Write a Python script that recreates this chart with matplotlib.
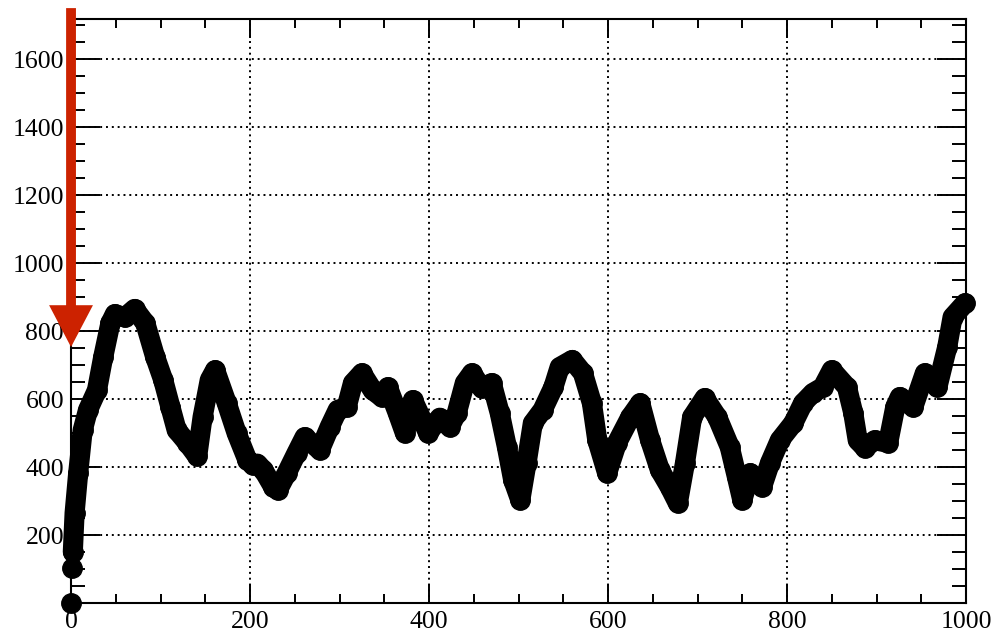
"""Running profile with a red marker arrow, ROOT style."""

import matplotlib

matplotlib.use("Agg")
from matplotlib import pyplot as plt
from matplotlib.ticker import FuncFormatter, MultipleLocator

# values
xs = [
    0, 1, 2, 4, 8, 13, 19, 29, 36, 44, 49, 60, 71, 83, 94, 103, 111, 118,
    130, 141, 147, 155, 161, 174, 185, 197, 203, 208, 215, 226, 231, 241,
    252, 261, 278, 289, 298, 308, 315, 325, 337, 347, 354, 365, 373, 382,
    399, 412, 423, 431, 440, 448, 459, 470, 479, 487, 494, 502, 509, 516,
    527, 539, 546, 560, 572, 582, 588, 599, 610, 625, 636, 647, 658, 669,
    678, 686, 694, 708, 722, 736, 744, 750, 759, 772, 781, 792, 807, 818,
    829, 840, 850, 867, 874, 879, 887, 898, 913, 921, 926, 941, 954, 968,
    979, 985, 999,
]
ys = [
    0, 103, 150, 265, 382, 508, 568, 626, 724, 823, 850, 840, 865, 823,
    724, 656, 577, 509, 471, 432, 547, 656, 685, 588, 500, 421, 406, 410,
    391, 341, 332, 382, 441, 488, 450, 518, 568, 577, 647, 676, 626, 606,
    635, 559, 500, 597, 500, 545, 518, 559, 647, 676, 632, 647, 559, 459,
    362, 303, 412, 529, 568, 635, 694, 715, 676, 588, 479, 382, 471, 547,
    588, 479, 391, 341, 294, 412, 547, 603, 547, 459, 371, 303, 382, 341,
    412, 479, 529, 588, 618, 635, 685, 635, 559, 479, 456, 479, 471, 577,
    606, 576, 676, 635, 753, 841, 882,
]

arrow_x = 0
arrow_top = 1750
arrow_tip = 753

fig = plt.figure(figsize=(9.92, 6.35), dpi=100)
ax = fig.add_axes([0.0716, 0.0504, 0.9022, 0.9197])

ax.plot(xs[2:], ys[2:], "-", color="black", linewidth=14.5,
        solid_capstyle="round", solid_joinstyle="round", zorder=3,
        clip_on=False)
ax.plot(xs, ys, "o", color="black", markersize=14, zorder=3,
        clip_on=False)

ax.arrow(arrow_x, arrow_top, 0, arrow_tip - arrow_top, width=11,
         head_width=49, head_length=123, length_includes_head=True,
         color="#cc2200", linewidth=0, clip_on=False, zorder=5)

ax.set_xlim(0, 1000)
ax.set_ylim(0, 1718)

ax.xaxis.set_major_locator(MultipleLocator(200))
ax.xaxis.set_minor_locator(MultipleLocator(50))
ax.yaxis.set_major_locator(MultipleLocator(200))
ax.yaxis.set_minor_locator(MultipleLocator(50))
# the y axis leaves its zero to the x axis
ax.yaxis.set_major_formatter(FuncFormatter(lambda v, _: "" if v == 0 else f"{v:.0f}"))

ax.grid(True, which="major", color="black", linestyle=(0, (1, 2)),
        linewidth=1.4, zorder=1)

ax.tick_params(axis="both", which="both", direction="in", top=True,
               right=True, width=1.4, colors="black", labelsize=18.5)
ax.tick_params(axis="x", which="major", length=14, pad=6)
ax.tick_params(axis="x", which="minor", length=6.5)
ax.tick_params(axis="y", which="major", length=21, pad=5)
ax.tick_params(axis="y", which="minor", length=10)

for label in ax.get_xticklabels() + ax.get_yticklabels():
    label.set_family(["Liberation Serif", "DejaVu Serif"])

for spine in ax.spines.values():
    spine.set_linewidth(1.5)
    spine.set_zorder(4)

fig.savefig("out.png", dpi=100)
